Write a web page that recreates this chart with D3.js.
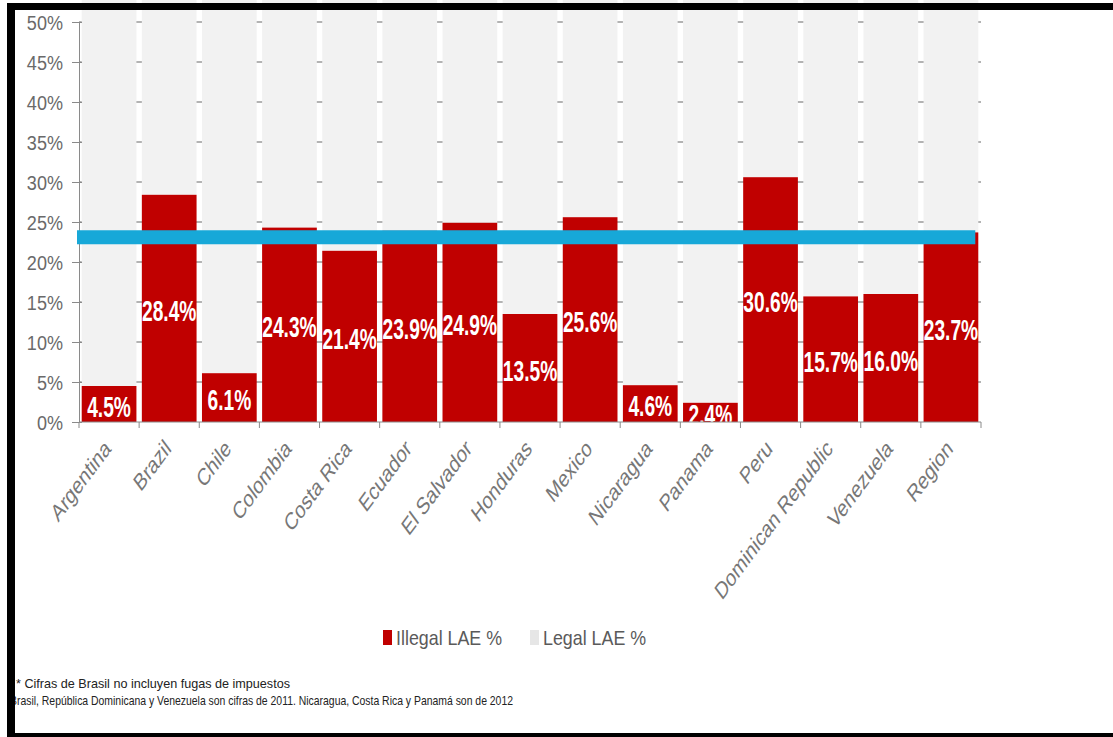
<!DOCTYPE html>
<html>
<head>
<meta charset="utf-8">
<script src="https://cdnjs.cloudflare.com/ajax/libs/d3/7.8.5/d3.min.js"></script>
<style>
  body { margin: 0; background: #fff; }
  svg { display: block; }
</style>
</head>
<body>
<div id="fig"></div>
<script>
// chart values
var countries = ["Argentina", "Brazil", "Chile", "Colombia", "Costa Rica", "Ecuador", "El Salvador",
                 "Honduras", "Mexico", "Nicaragua", "Panama", "Peru", "Dominican Republic", "Venezuela", "Region"];
var illegal = [4.5, 28.4, 6.1, 24.3, 21.4, 23.9, 24.9, 13.5, 25.6, 4.6, 2.4, 30.6, 15.7, 16.0, 23.7];
var legal = [95.5, 71.6, 93.9, 75.7, 78.6, 76.1, 75.1, 86.5, 74.4, 95.4, 97.6, 69.4, 84.3, 84.0, 76.3];
var yTicks = [0, 5, 10, 15, 20, 25, 30, 35, 40, 45, 50];
var averageLine = 23.1;
var legendLabels = ["Illegal LAE %", "Legal LAE %"];
var notes = ["* Cifras de Brasil no incluyen fugas de impuestos",
             "Brasil, República Dominicana y Venezuela son cifras de 2011. Nicaragua, Costa Rica y Panamá son de 2012"];

var W = 1113, H = 737;
var margin = {top: 22, left: 79, right: 132, bottom: 315};

var svg = d3.select("#fig").append("svg")
    .attr("width", W)
    .attr("height", H)
    .style("font-family", "'Liberation Sans', Arial, sans-serif");

var defs = svg.append("defs");
defs.append("clipPath").attr("id", "plotClip")
  .append("rect").attr("x", 0).attr("y", 0).attr("width", W).attr("height", H - margin.bottom);
defs.append("filter").attr("id", "blur")
  .append("feGaussianBlur").attr("stdDeviation", 2);

var x = d3.scaleBand()
    .domain(countries)
    .range([margin.left, W - margin.right])
    .paddingInner(0.09)
    .paddingOuter(0.045);

var y = d3.scaleLinear()
    .domain([0, 50])
    .range([H - margin.bottom, margin.top]);

var rows = countries.map(function(c, i) { return {name: c, illegal: illegal[i], legal: legal[i]}; });

// grid lines (only show in the gaps between columns)
svg.append("g")
  .selectAll("line")
  .data(yTicks.slice(1))
  .enter().append("line")
    .attr("x1", x.range()[0])
    .attr("x2", x.range()[1])
    .attr("y1", function(d) { return y(d); })
    .attr("y2", function(d) { return y(d); })
    .attr("stroke", "#9a9a9a")
    .attr("stroke-width", 1.5);

var bars = svg.append("g").attr("clip-path", "url(#plotClip)");

// legal share stacked on top (runs past the 50% top)
bars.selectAll(".legal")
  .data(rows)
  .enter().append("rect")
    .attr("class", "legal")
    .attr("x", function(d) { return x(d.name); })
    .attr("width", x.bandwidth())
    .attr("y", function(d) { return y(d.illegal + d.legal); })
    .attr("height", function(d) { return y(d.illegal) - y(d.illegal + d.legal); })
    .attr("fill", "#f2f2f2");

bars.selectAll(".illegal")
  .data(rows)
  .enter().append("rect")
    .attr("class", "illegal")
    .attr("x", function(d) { return x(d.name); })
    .attr("width", x.bandwidth())
    .attr("y", function(d) { return y(d.illegal); })
    .attr("height", function(d) { return y(0) - y(d.illegal); })
    .attr("fill", "#c00000");

// value labels
bars.selectAll(".lbl")
  .data(rows)
  .enter().append("text")
    .attr("class", "lbl")
    .attr("transform", function(d) {
      return "translate(" + (x(d.name) + x.bandwidth() / 2) + "," + (y(d.illegal / 2) + 2) + ") scale(0.64,1)";
    })
    .attr("text-anchor", "middle")
    .attr("dy", "0.35em")
    .style("font-size", "30px")
    .style("font-weight", "bold")
    .attr("fill", "#fff")
    .text(function(d) { return d.illegal.toFixed(1) + "%"; });

// y axis
var yAxis = svg.append("g")
    .attr("transform", "translate(" + margin.left + ",0)")
    .call(d3.axisLeft(y).tickValues(yTicks).tickSizeInner(7).tickSizeOuter(0)
      .tickFormat(function(d) { return d + "%"; }));
yAxis.select(".domain").attr("stroke", "#8a8a8a");
yAxis.selectAll(".tick line").attr("stroke", "#8a8a8a").attr("x2", -7).attr("x1", 3);
yAxis.selectAll(".tick text")
    .attr("x", null)
    .attr("dy", "0.35em")
    .attr("transform", "translate(-16,0) scale(0.86,1)")
    .attr("fill", "#6a6a6a")
    .style("font-size", "21px")
    .style("font-family", "'Liberation Sans', Arial, sans-serif");

// x axis line with ticks at the column boundaries
var xAxis = svg.append("g");
xAxis.append("line")
    .attr("x1", x.range()[0]).attr("x2", x.range()[1])
    .attr("y1", y(0)).attr("y2", y(0))
    .attr("stroke", "#8a8a8a");
var bounds = countries.map(function(c) { return x(c) - x.step() * x.paddingInner() / 2; });
bounds.push(x.range()[1]);
xAxis.selectAll(".bt")
  .data(bounds)
  .enter().append("line")
    .attr("x1", function(d) { return d; }).attr("x2", function(d) { return d; })
    .attr("y1", y(0)).attr("y2", y(0) + 6)
    .attr("stroke", "#8a8a8a");

xAxis.selectAll(".xl")
  .data(countries)
  .enter().append("text")
    .attr("transform", function(d) {
      return "translate(" + (x(d) + x.bandwidth() / 2 + 3) + "," + (y(0) + 28) + ") scale(0.74,1) rotate(-45)";
    })
    .attr("text-anchor", "end")
    .attr("fill", "#777")
    .style("font-size", "24px")
    .text(function(d) { return d; });

// average line with soft shadow
svg.append("line")
    .attr("x1", x.range()[0] - 2)
    .attr("x2", x(countries[countries.length - 1]) + x.bandwidth() - 3)
    .attr("y1", y(averageLine) + 4)
    .attr("y2", y(averageLine) + 4)
    .attr("stroke", "#000")
    .attr("stroke-opacity", 0.25)
    .attr("stroke-width", 11)
    .attr("filter", "url(#blur)");
svg.append("line")
    .attr("x1", x.range()[0] - 2)
    .attr("x2", x(countries[countries.length - 1]) + x.bandwidth() - 3)
    .attr("y1", y(averageLine))
    .attr("y2", y(averageLine))
    .attr("stroke", "#17a8d8")
    .attr("stroke-width", 14);

// legend
var legendColors = ["#c00000", "#e6e6e6"];
var legendX = [383, 530];
var legend = svg.append("g");
legendLabels.forEach(function(t, i) {
  legend.append("rect")
    .attr("x", legendX[i]).attr("y", 630)
    .attr("width", 9).attr("height", 15)
    .attr("fill", legendColors[i]);
  legend.append("text")
    .attr("transform", "translate(" + (legendX[i] + 13) + ",645) scale(0.85,1)")
    .attr("fill", "#5a5a5a")
    .style("font-size", "21px")
    .text(t);
});

// footnotes
svg.append("text")
    .attr("x", 16).attr("y", 688)
    .attr("textLength", 274).attr("lengthAdjust", "spacingAndGlyphs")
    .style("font-size", "13px").attr("fill", "#222")
    .text(notes[0]);
svg.append("text")
    .attr("x", 10).attr("y", 705)
    .attr("textLength", 503).attr("lengthAdjust", "spacingAndGlyphs")
    .style("font-size", "13px").attr("fill", "#222")
    .text(notes[1]);

// black frame
svg.append("rect").attr("x", 0).attr("y", 3).attr("width", W).attr("height", 7).attr("fill", "#000");
svg.append("rect").attr("x", 7).attr("y", 3).attr("width", 8).attr("height", H - 3).attr("fill", "#000");
svg.append("rect").attr("x", 0).attr("y", 733).attr("width", W).attr("height", 4).attr("fill", "#000");
svg.append("rect").attr("x", 0).attr("y", 0).attr("width", 7).attr("height", H).attr("fill", "#fff");
</script>
</body>
</html>
